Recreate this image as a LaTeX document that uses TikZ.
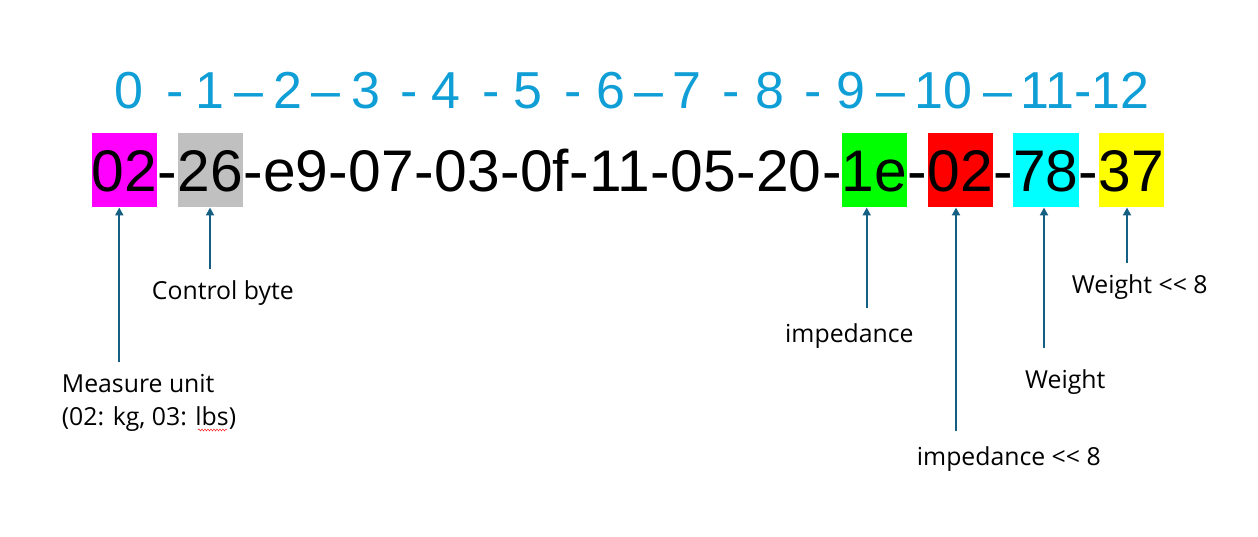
\documentclass[tikz,border=0pt]{standalone}
\usepackage{fontspec}
\usepackage{tikz}
\usetikzlibrary{positioning,arrows.meta,decorations.pathmorphing}
\newfontfamily\bytefont{Liberation Sans}
\newfontfamily\lblfont{Open Sans}
\definecolor{idxblue}{HTML}{0F9ED5}
\definecolor{ptrblue}{HTML}{156082}
\definecolor{cunit}{HTML}{FF00FF}
\definecolor{cctrl}{HTML}{C0C0C0}
\definecolor{cimp}{HTML}{00FF00}
\definecolor{cimphi}{HTML}{FF0000}
\definecolor{cwgt}{HTML}{00FFFF}
\definecolor{cwgthi}{HTML}{FFFF00}
\tikzset{
	bytebox/.style={inner sep=0pt, text height=59pt, text depth=15.6pt,
		font=\bytefont\fontsize{58.7}{60}\selectfont},
	idx/.style={inner sep=0pt, anchor=base, text=idxblue,
		font=\bytefont\fontsize{52}{54}\selectfont},
	lbl/.style={inner sep=0pt, anchor=base west, align=left,
		font=\lblfont\fontsize{24.8}{32.3}\selectfont},
	ptr/.style={ptrblue, line width=2pt, -{Triangle[length=8pt,width=8pt]}}
}

\begin{document}
\begin{tikzpicture}[x=1pt,y=-1pt]
	\useasboundingbox (0,0) rectangle (1258,537);

	% index row
	\foreach \t/\x [count=\i] in {0/128.8, -/175, 1/210, –/249, 2/287.5, –/326,
		3/365.5, -/409.5, 4/446, -/491.5, 5/528, -/573.5, 6/610.5, –/648.5,
		7/687, -/731.5, 8/770, -/813.5, 9/851.3, –/890.8, 10/943, –/997.5,
		11-12/1084.7}
		\node[idx] (idx\i) at (\x,109) {\t};

	% byte row
	\node[bytebox, fill=cunit, anchor=base west] (b0) at (91.7,191.7) {02};
	\foreach \v/\c [count=\i, remember=\i as \p (initially 0)] in {26/cctrl,
		e9/none, 07/none, 03/none, 0f/none, 11/none, 05/none, 20/none,
		1e/cimp, 02/cimphi, 78/cwgt, 37/cwgthi}
	{
		\node[bytebox, right=0pt of b\p] (h\i) {-};
		\node[bytebox, fill=\c, right=0pt of h\i] (b\i) {\v};
	}

	% labels (base of a two line node = last line)
	\node[lbl] (lunit) at (61.7,425) {Measure unit\\(02: kg, 03: lbs)};
	\node[lbl] (lctrl) at (151.7,300) {Control byte};
	\node[lbl] (limp) at (785,342.7) {impedance};
	\node[lbl] (limphi) at (916.7,465) {impedance << 8};
	\node[lbl] (lwgt) at (1025,388.3) {Weight};
	\node[lbl] (lwgthi) at (1071.7,294) {Weight << 8};
	\draw[red, decorate, decoration={snake, amplitude=1pt, segment length=3pt}]
		(198,430) -- (227,430);

	% pointers
	\coordinate (tunit) at (119.3,362);
	\coordinate (tctrl) at (210,269);
	\coordinate (timp) at (866.7,308);
	\coordinate (timphi) at (956,431);
	\coordinate (twgt) at (1044,348);
	\coordinate (twgthi) at (1127,263);

	\draw[ptr] (tunit) -- (tunit |- b0.south);
	\draw[ptr] (tctrl) -- (tctrl |- b1.south);
	\draw[ptr] (timp) -- (timp |- b9.south);
	\draw[ptr] (timphi) -- (timphi |- b10.south);
	\draw[ptr] (twgt) -- (twgt |- b11.south);
	\draw[ptr] (twgthi) -- (twgthi |- b12.south);
\end{tikzpicture}
\end{document}
